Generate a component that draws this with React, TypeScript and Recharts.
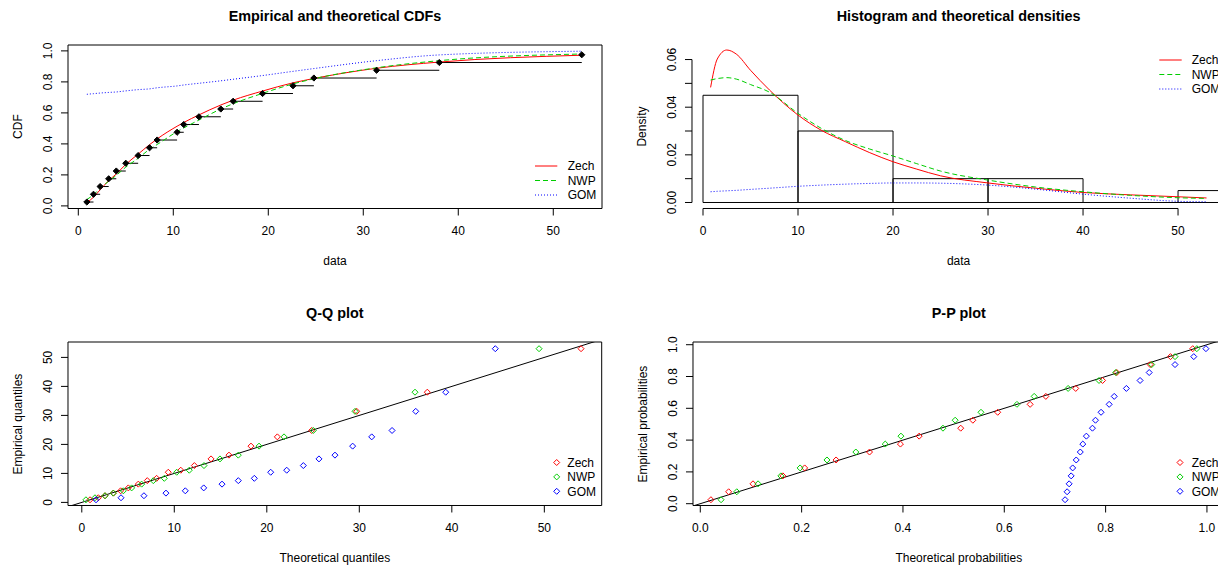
import React from 'react';
import { ComposedChart, Line, Scatter, XAxis, YAxis, ReferenceLine, ReferenceArea } from 'recharts';

const FONT = '"Liberation Sans", Arial, Helvetica, sans-serif';
const RED = '#FF0000';
const GREEN = '#00CD00';
const BLUE = '#0000FF';

const modelNames = ['Zech', 'NWP', 'GOM'];
const modelColors = [RED, GREEN, BLUE];
const modelDash = [undefined, '5 3', '1 2'];

// sorted sample
const sample = [0.9, 1.6, 2.3, 3.2, 4.0, 5.0, 6.3, 7.5, 8.3, 10.4, 11.1, 12.7, 15.0, 16.3, 19.4, 22.6, 24.8, 31.4, 38.0, 53.0];
// empirical plotting positions
const plotPos = [0.025, 0.075, 0.125, 0.175, 0.225, 0.275, 0.325, 0.375, 0.425, 0.475, 0.525, 0.575, 0.625, 0.675, 0.725, 0.775, 0.825, 0.875, 0.925, 0.975];

// fitted cdf at each sample value
const zechCdf = [0.021, 0.056, 0.104, 0.163, 0.206, 0.268, 0.334, 0.395, 0.432, 0.514, 0.538, 0.587, 0.651, 0.682, 0.741, 0.794, 0.822, 0.888, 0.928, 0.972];
const nwpCdf = [0.041, 0.072, 0.114, 0.159, 0.197, 0.25, 0.307, 0.365, 0.396, 0.479, 0.503, 0.554, 0.625, 0.659, 0.726, 0.787, 0.82, 0.891, 0.937, 0.98];
const gomCdf = [0.72, 0.724, 0.728, 0.732, 0.735, 0.742, 0.75, 0.755, 0.762, 0.774, 0.78, 0.791, 0.807, 0.817, 0.841, 0.868, 0.886, 0.937, 0.974, 0.998];

// theoretical quantiles
const zechQuant = [0.89, 1.79, 2.51, 3.41, 4.2, 5.03, 6.11, 7.08, 8.09, 9.35, 10.7, 12.17, 13.97, 15.91, 18.29, 21.14, 24.85, 29.72, 37.35, 53.97];
const nwpQuant = [0.45, 1.43, 2.51, 3.41, 4.49, 5.39, 6.47, 7.73, 8.92, 10.26, 11.62, 13.21, 14.94, 16.92, 19.16, 21.86, 25.03, 29.54, 36.02, 49.43];
const gomQuant = [1.54, 4.24, 6.72, 9.1, 11.19, 13.18, 15.16, 16.92, 18.65, 20.42, 22.15, 23.95, 25.64, 27.37, 29.28, 31.34, 33.54, 36.1, 39.34, 44.7];

// histogram
const histStart = [0, 10, 20, 30, 40, 50];
const histEnd = [10, 20, 30, 40, 50, 60];
const histDensity = [0.045, 0.03, 0.01, 0.01, 0, 0.005];

// fitted densities
const densX = [0.8, 1.5, 2.5, 3.5, 5, 7, 10, 12.5, 15, 17.5, 20, 22.5, 25, 30, 35, 40, 45, 50, 53];
const zechDens = [0.0483, 0.0602, 0.064, 0.0623, 0.0555, 0.0472, 0.0367, 0.0302, 0.0255, 0.021, 0.0171, 0.014, 0.0112, 0.0082, 0.006, 0.0042, 0.0032, 0.0024, 0.0019];
const nwpDens = [0.0514, 0.052, 0.0524, 0.0518, 0.0495, 0.0463, 0.0374, 0.031, 0.026, 0.0225, 0.0195, 0.0163, 0.0132, 0.0094, 0.0065, 0.0045, 0.003, 0.002, 0.0017];
const gomDens = [0.0045, 0.0047, 0.0049, 0.0051, 0.0055, 0.006, 0.0068, 0.0073, 0.0077, 0.008, 0.0082, 0.0082, 0.0081, 0.0073, 0.0056, 0.0035, 0.0018, 0.0005, 0.0003];

const dataTicks = [0, 10, 20, 30, 40, 50];
const probTicks = [0, 0.2, 0.4, 0.6, 0.8, 1];
const densTicks = [0, 0.01, 0.02, 0.03, 0.04, 0.05, 0.06];

// plot regions (page px) and axis ranges
const P1 = { L: 68, T: 44.8, R: 602, B: 208.3, x: [-1.084, 55.13], y: [-0.0168, 1.038] };
const P2 = { L: 692.3, T: 44.8, R: 1224.9, B: 208.3, x: [-1.158, 54.9], y: [-0.00252, 0.0661] };
const P3 = { L: 68, T: 342.3, R: 601.7, B: 505.8, x: [-1.49, 56.2], y: [-1.069, 55.31] };
const P4 = { L: 692.7, T: 342.3, R: 1224.9, B: 505.8, x: [-0.0144, 1.036], y: [-0.0113, 1.017] };

const PAD_L = 60;
const PAD_T = 10;
const PAD_R = 10;
const PAD_B = 40;

const fmt1 = (v: number) => v.toFixed(1);
const fmt0 = (v: number) => String(v);
const fmt2 = (v: number) => v.toFixed(2);

const zip = (xs: number[], ys: number[]) => xs.map((x, i) => ({ x, y: ys[i] }));

const XTick = (props: any) => {
  const { x, y, payload, fmt } = props;
  return (
    <text x={x} y={y + 17.5} textAnchor="middle" fontSize={12} fontFamily={FONT} fill="#000">
      {fmt(payload.value)}
    </text>
  );
};

const YTick = (props: any) => {
  const { x, y, payload, fmt, show } = props;
  if (show && !show(payload.value)) return <g />;
  const bx = x - 7;
  return (
    <text x={bx} y={y} transform={`rotate(-90 ${bx} ${y})`} textAnchor="middle" fontSize={12} fontFamily={FONT} fill="#000">
      {fmt(payload.value)}
    </text>
  );
};

const Diamond = (props: any) => {
  const { cx, cy, color, filled } = props;
  if (cx == null || cy == null) return <g />;
  const s = filled ? 3.1 : 3;
  return (
    <polygon
      points={`${cx},${cy - s} ${cx + s},${cy} ${cx},${cy + s} ${cx - s},${cy}`}
      fill={filled ? color : 'none'}
      stroke={color}
      strokeWidth={1}
    />
  );
};

function Panel({ g, xTicks, yTicks, xFmt, yFmt, yShow, box, children }: any) {
  const width = g.R - g.L + PAD_L + PAD_R;
  const height = g.B - g.T + PAD_T + PAD_B;
  return (
    <div style={{ position: 'absolute', left: g.L - PAD_L, top: g.T - PAD_T }}>
      <ComposedChart width={width} height={height} margin={{ top: PAD_T, right: PAD_R, bottom: 0, left: 0 }}>
        <XAxis
          type="number"
          dataKey="x"
          domain={g.x}
          allowDataOverflow
          ticks={xTicks}
          interval={0}
          height={PAD_B}
          tickSize={7}
          tickMargin={2}
          axisLine={false}
          stroke="#000"
          tickLine={{ stroke: '#000' }}
          tick={(p: any) => <XTick {...p} fmt={xFmt} />}
        />
        <YAxis
          type="number"
          dataKey="y"
          domain={g.y}
          allowDataOverflow
          ticks={yTicks}
          interval={0}
          width={PAD_L}
          tickSize={7}
          tickMargin={2}
          axisLine={false}
          stroke="#000"
          tickLine={{ stroke: '#000' }}
          tick={(p: any) => <YTick {...p} fmt={yFmt} show={yShow} />}
        />
        {box && (
          <ReferenceArea x1={g.x[0]} x2={g.x[1]} y1={g.y[0]} y2={g.y[1]} fill="none" fillOpacity={0} stroke="#000" strokeWidth={1} ifOverflow="visible" />
        )}
        {children}
      </ComposedChart>
    </div>
  );
}

export default function App() {
  const cdfSeries = [zechCdf, nwpCdf, gomCdf];
  const densSeries = [zechDens, nwpDens, gomDens];
  const quantSeries = [zechQuant, nwpQuant, gomQuant];

  // y = x reference line, clipped to the plot area
  const diagLo3 = Math.min(P3.x[0], P3.y[0]);
  const diagHi3 = Math.max(P3.x[1], P3.y[1]);
  const diagLo4 = Math.min(P4.x[0], P4.y[0]);
  const diagHi4 = Math.max(P4.x[1], P4.y[1]);

  const titles = [
    { g: P1, text: 'Empirical and theoretical CDFs', xl: 'data', yl: 'CDF' },
    { g: P2, text: 'Histogram and theoretical densities', xl: 'data', yl: 'Density' },
    { g: P3, text: 'Q-Q plot', xl: 'Theoretical quantiles', yl: 'Empirical quantiles' },
    { g: P4, text: 'P-P plot', xl: 'Theoretical probabilities', yl: 'Empirical probabilities' },
  ];

  return (
    <div style={{ position: 'fixed', left: 0, top: 0, width: 1218, height: 566, overflow: 'hidden', background: '#fff' }}>
      {/* CDF panel */}
      <Panel g={P1} xTicks={dataTicks} yTicks={probTicks} xFmt={fmt0} yFmt={fmt1} box>
        {sample.slice(0, -1).map((x, i) => (
          <ReferenceLine
            key={`step-${i}`}
            segment={[{ x, y: plotPos[i] }, { x: sample[i + 1], y: plotPos[i] }]}
            stroke="#000"
            strokeWidth={1}
            ifOverflow="visible"
          />
        ))}
        {cdfSeries.map((s, k) => (
          <Line
            key={`cdf-${k}`}
            data={zip(sample, s)}
            dataKey="y"
            type="monotone"
            stroke={modelColors[k]}
            strokeDasharray={modelDash[k]}
            strokeWidth={1}
            dot={false}
            isAnimationActive={false}
          />
        ))}
        <Scatter
          data={zip(sample, plotPos)}
          dataKey="y"
          isAnimationActive={false}
          shape={(p: any) => <Diamond cx={p.cx} cy={p.cy} color="#000" filled />}
        />
      </Panel>

      {/* density panel */}
      <Panel
        g={P2}
        xTicks={dataTicks}
        yTicks={densTicks}
        xFmt={fmt0}
        yFmt={fmt2}
        yShow={(v: number) => Math.round(v * 100) % 2 === 0}
      >
        <ReferenceLine segment={[{ x: 0, y: P2.y[0] }, { x: 50, y: P2.y[0] }]} stroke="#000" ifOverflow="visible" />
        <ReferenceLine segment={[{ x: P2.x[0], y: 0 }, { x: P2.x[0], y: 0.06 }]} stroke="#000" ifOverflow="visible" />
        {histStart.map((x0, i) =>
          histDensity[i] > 0 ? (
            <ReferenceArea
              key={`bin-${i}`}
              x1={x0}
              x2={histEnd[i]}
              y1={0}
              y2={histDensity[i]}
              fill="none"
              fillOpacity={0}
              stroke="#000"
              strokeWidth={1}
              ifOverflow="hidden"
            />
          ) : (
            <ReferenceLine
              key={`bin-${i}`}
              segment={[{ x: x0, y: 0 }, { x: histEnd[i], y: 0 }]}
              stroke="#000"
              ifOverflow="hidden"
            />
          )
        )}
        {densSeries.map((s, k) => (
          <Line
            key={`dens-${k}`}
            data={zip(densX, s)}
            dataKey="y"
            type="monotone"
            stroke={modelColors[k]}
            strokeDasharray={modelDash[k]}
            strokeWidth={1}
            dot={false}
            isAnimationActive={false}
          />
        ))}
      </Panel>

      {/* Q-Q panel */}
      <Panel g={P3} xTicks={dataTicks} yTicks={dataTicks} xFmt={fmt0} yFmt={fmt0} box>
        <ReferenceLine segment={[{ x: diagLo3, y: diagLo3 }, { x: diagHi3, y: diagHi3 }]} stroke="#000" ifOverflow="hidden" />
        {quantSeries.map((q, k) => (
          <Scatter
            key={`qq-${k}`}
            data={zip(q, sample)}
            dataKey="y"
            isAnimationActive={false}
            shape={(p: any) => <Diamond cx={p.cx} cy={p.cy} color={modelColors[k]} />}
          />
        ))}
      </Panel>

      {/* P-P panel */}
      <Panel g={P4} xTicks={probTicks} yTicks={probTicks} xFmt={fmt1} yFmt={fmt1} box>
        <ReferenceLine segment={[{ x: diagLo4, y: diagLo4 }, { x: diagHi4, y: diagHi4 }]} stroke="#000" ifOverflow="hidden" />
        {cdfSeries.map((c, k) => (
          <Scatter
            key={`pp-${k}`}
            data={zip(c, plotPos)}
            dataKey="y"
            isAnimationActive={false}
            shape={(p: any) => <Diamond cx={p.cx} cy={p.cy} color={modelColors[k]} />}
          />
        ))}
      </Panel>

      {/* titles, axis titles, legends */}
      <svg width={1218} height={566} style={{ position: 'absolute', left: 0, top: 0, pointerEvents: 'none' }}>
        {titles.map((t, i) => {
          const cx = (t.g.L + t.g.R) / 2;
          const cy = (t.g.T + t.g.B) / 2;
          return (
            <g key={`t-${i}`} fontFamily={FONT} fill="#000">
              <text x={cx} y={t.g.T - 24.3} textAnchor="middle" fontSize={14.4} fontWeight="bold">
                {t.text}
              </text>
              <text x={cx} y={t.g.B + 56.5} textAnchor="middle" fontSize={12}>
                {t.xl}
              </text>
              <text transform={`translate(${t.g.L - 46} ${cy}) rotate(-90)`} textAnchor="middle" fontSize={12}>
                {t.yl}
              </text>
            </g>
          );
        })}

        {/* line legends */}
        {[
          { x1: 535, x2: 557.3, tx: 567.7, y0: 166 },
          { x1: 1159.3, x2: 1181.7, tx: 1191.7, y0: 60 },
        ].map((lg, j) =>
          modelNames.map((name, k) => (
            <g key={`ll-${j}-${k}`}>
              <line
                x1={lg.x1}
                x2={lg.x2}
                y1={lg.y0 + k * 14.5}
                y2={lg.y0 + k * 14.5}
                stroke={modelColors[k]}
                strokeDasharray={modelDash[k]}
                strokeWidth={1}
              />
              <text x={lg.tx} y={lg.y0 + k * 14.5 + 4.3} fontSize={12} fontFamily={FONT} fill="#000">
                {name}
              </text>
            </g>
          ))
        )}

        {/* point legends */}
        {[
          { mx: 556.7, tx: 567.3, y0: 462.5 },
          { mx: 1180, tx: 1191.7, y0: 462.5 },
        ].map((lg, j) =>
          modelNames.map((name, k) => (
            <g key={`pl-${j}-${k}`}>
              <Diamond cx={lg.mx} cy={lg.y0 + k * 14.4} color={modelColors[k]} />
              <text x={lg.tx} y={lg.y0 + k * 14.4 + 4.3} fontSize={12} fontFamily={FONT} fill="#000">
                {name}
              </text>
            </g>
          ))
        )}
      </svg>
    </div>
  );
}
